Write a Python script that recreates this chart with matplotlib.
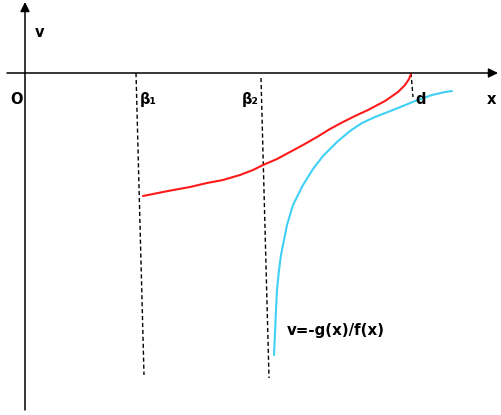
import matplotlib.pyplot as plt

# coordinates: x to the right of the v axis, v above the x axis (pixel scale)
red_x = [118, 143, 165, 182, 198, 215, 228, 238, 252, 265, 278, 292, 305, 318, 330,
         343, 360, 373, 380, 384, 386]
red_v = [-123, -118, -114, -110, -107, -102, -97, -92, -86, -79, -72, -64, -56, -49, -43,
         -37, -28, -19, -12, -6, -1]

cyan_x = [249, 250, 251, 252, 254, 256, 258, 262, 268, 278, 288, 298, 312, 325, 337,
          350, 373, 390, 407, 420, 427]
cyan_v = [-282, -260, -237, -217, -197, -182, -172, -152, -132, -112, -96, -83, -69, -58, -50,
          -44, -35, -28, -22, -19, -18]

beta1 = [(111, 0), (119, -302)]
beta2 = [(236, -5), (244, -305)]
d_line = [(386, 0), (388, -24)]

point_labels = ['O', 'β₁', 'β₂', 'd', 'x']
label_x = [-15, 115, 217, 390, 462]

fig = plt.figure(figsize=(5.01, 4.15), dpi=100)
ax = fig.add_axes([0, 0, 1, 1])
ax.set_xlim(-25, 476)
ax.set_ylim(-342, 73)
ax.axis('off')

# axes with arrows
ax.annotate('', xy=(473, 0), xytext=(-18, 0),
            arrowprops=dict(arrowstyle='-|>', color='black', lw=1.1,
                            mutation_scale=14, shrinkA=0, shrinkB=0))
ax.annotate('', xy=(0, 71), xytext=(0, -337),
            arrowprops=dict(arrowstyle='-|>', color='black', lw=1.1,
                            mutation_scale=14, shrinkA=0, shrinkB=0))

for seg in (beta1, beta2, d_line):
    xs, vs = zip(*seg)
    ax.plot(xs, vs, color='black', lw=1, linestyle=(0, (3, 2)))

ax.plot(red_x, red_v, color='#ff1a1a', lw=1.5, solid_capstyle='round', solid_joinstyle='round')
ax.plot(cyan_x, cyan_v, color='#3fd0f5', lw=1.5, solid_capstyle='round', solid_joinstyle='round')

for lab, lx in zip(point_labels, label_x):
    ax.text(lx, -27, lab, fontsize=10.5, fontweight='bold', ha='left', va='center')
ax.text(10, 40, 'v', fontsize=10.5, fontweight='bold', ha='left', va='center')
ax.text(262, -257, 'v=-g(x)/f(x)', fontsize=10.8, fontweight='bold', ha='left', va='center')

fig.savefig('out.png', dpi=100)
